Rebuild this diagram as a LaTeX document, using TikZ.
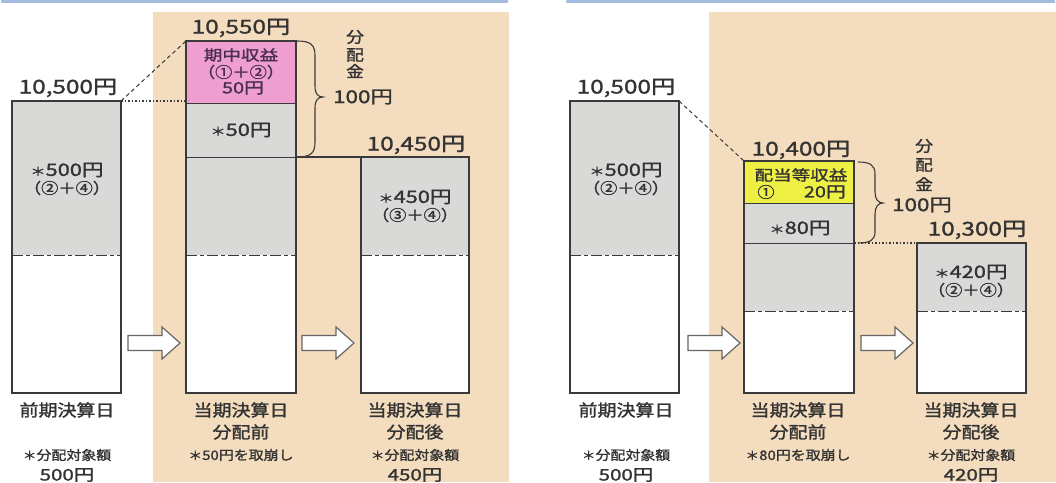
\documentclass[tikz,border=0pt]{standalone}
\usepackage{fontspec}
\setmainfont[FakeStretch=1.15,FakeBold=1.5]{Noto Sans CJK JP}
\newfontfamily\numf[FakeStretch=1.28,FakeBold=1.5]{Noto Sans CJK JP}
\usetikzlibrary{calc}
\definecolor{beige}{HTML}{F4DDBE}
\definecolor{grayf}{HTML}{D9D9D7}
\definecolor{pinkf}{HTML}{EE9FD0}
\definecolor{yellowf}{HTML}{EEF046}
\definecolor{boxc}{HTML}{3A3A3A}
\definecolor{txt}{HTML}{333333}
\definecolor{pinktxt}{HTML}{4A2F4F}
\definecolor{topblue}{HTML}{A3BBDF}
\definecolor{arrowc}{HTML}{666666}
\newcommand\fs[1]{\fontsize{#1}{#1}\selectfont}
\newcommand\astk{{\fs{12}＊}}
\begin{document}
\begin{tikzpicture}[x=1pt,y=-1pt,
  box/.style={draw=boxc, line width=1.3pt, inner sep=0pt, outer sep=0pt},
  div/.style={draw=boxc, line width=1pt},
  dd/.style={draw=boxc, line width=1pt, dash pattern=on 11pt off 3pt on 4pt off 3pt},
  lbl/.style={text=txt, inner sep=0pt, font=\numf\fs{19}},
  inbox/.style={text=txt, inner sep=0pt, font=\numf\fs{17}},
  paren/.style={text=txt, inner sep=0pt, font=\fs{15}},
  bot/.style={text=txt, inner sep=0pt, font=\fs{16.5}},
  botsm/.style={text=txt, inner sep=0pt, font=\fs{13}},
  botnum/.style={text=txt, inner sep=0pt, font=\numf\fs{16}},
  vert/.style={text=txt, inner sep=0pt, font=\fs{15.5}},
  brc/.style={draw=boxc, line width=1.1pt},
  dashconn/.style={draw=boxc, line width=1pt, dash pattern=on 4pt off 3pt},
  dotconn/.style={draw=boxc, line width=1.2pt, dash pattern=on 1.5pt off 2pt},
  solconn/.style={draw=boxc, line width=1.2pt},
  blockarr/.pic={\draw[draw=arrowc, fill=white, line width=1.2pt]
     (0,-7.5) -- (34,-7.5) -- (34,-16) -- (52,0) -- (34,16) -- (34,7.5) -- (0,7.5) -- cycle;}
]
\useasboundingbox (0,0) rectangle (1056,482);
% backgrounds
\fill[white] (0,0) rectangle (1056,482);
\fill[beige] (153,12) rectangle (509,482);
\fill[beige] (709,12) rectangle (1056,482);
\draw[topblue, line width=3pt, line cap=round] (2,1.5) -- (507,1.5);
\draw[topblue, line width=3pt, line cap=round] (567,1.5) -- (1054,1.5);

% fills
\fill[white] (12,101) rectangle (121,393);
\fill[white] (186,41) rectangle (296,393);
\fill[white] (361,157) rectangle (469,393);
\fill[white] (570,101) rectangle (679,393);
\fill[white] (744,161) rectangle (854,393);
\fill[white] (917,243) rectangle (1026,393);
\fill[grayf] (12,101) rectangle (121,255);
\fill[pinkf] (186,41) rectangle (296,103);
\fill[grayf] (186,103) rectangle (296,255);
\fill[grayf] (361,157) rectangle (469,255);
\fill[grayf] (570,101) rectangle (679,255);
\fill[yellowf] (744,161) rectangle (854,203);
\fill[grayf] (744,203) rectangle (854,311);
\fill[grayf] (917,243) rectangle (1026,311);

% internal division lines
\draw[div] (186,103) -- (296,103);
\draw[div] (186,157) -- (296,157);
\draw[div] (744,203) -- (854,203);
\draw[div] (744,243) -- (854,243);
\draw[dd] (12,255) -- (121,255);
\draw[dd] (186,255) -- (296,255);
\draw[dd] (361,255) -- (469,255);
\draw[dd] (570,255) -- (679,255);
\draw[dd] (744,311) -- (854,311);
\draw[dd] (917,311) -- (1026,311);

% boxes
\node[box, minimum width=109pt, minimum height=292pt] (b1) at (66.5,247) {};
\node[box, minimum width=110pt, minimum height=352pt] (b2) at (241,217) {};
\node[box, minimum width=108pt, minimum height=236pt] (b3) at (415,275) {};
\node[box, minimum width=109pt, minimum height=292pt] (c1) at (624.5,247) {};
\node[box, minimum width=110pt, minimum height=232pt] (c2) at (799,277) {};
\node[box, minimum width=109pt, minimum height=150pt] (c3) at (971.5,318) {};

% connectors
\draw[dotconn] (b1.north east) -- (b1.north east -| b2.west);
\draw[dashconn] (b1.north east) -- (b2.north west);
\draw[solconn] (b3.north west -| b2.east) -- (b3.north west);
\draw[dashconn] (c1.north east) -- (c2.north west);
\draw[dotconn] (c3.north west -| c2.east) -- (c3.north west);

% braces
\draw[brc] (297,41) .. controls (311,41) and (315,45) .. (315,56) -- (315,86)
  .. controls (315,94) and (318,97) .. (323,97)
  .. controls (318,97) and (315,100) .. (315,108) -- (315,142)
  .. controls (315,153) and (311,157) .. (297,157);
\draw[brc] (858,162) .. controls (870,162) and (875,165) .. (875,174) -- (875,192)
  .. controls (875,199) and (878,203) .. (883,203)
  .. controls (878,203) and (875,207) .. (875,214) -- (875,232)
  .. controls (875,240) and (870,243) .. (858,243);

% block arrows
\pic at (128,343) {blockarr};
\pic at (302,343) {blockarr};
\pic at (688,343) {blockarr};
\pic at (861,343) {blockarr};

% top labels
\node[lbl] (t1) at (68,88) {10,500円};
\node[lbl] (t2) at (241,28) {10,550円};
\node[lbl] (t3) at (416,145) {10,450円};
\node[lbl] (t4) at (626,88) {10,500円};
\node[lbl] (t5) at (801,150) {10,400円};
\node[lbl] (t6) at (977,230) {10,300円};

% 分配金
\node[vert] (v1) at (355,37) {分};
\node[vert] (v2) at (355,55) {配};
\node[vert] (v3) at (355,71) {金};
\node[lbl, font=\numf\fs{17.5}] (h1) at (363,97) {100円};
\node[vert] (w1) at (924,146) {分};
\node[vert] (w2) at (924,165) {配};
\node[vert] (w3) at (924,184) {金};
\node[lbl, font=\numf\fs{17.5}] (h2) at (922,205) {100円};

% inside texts
\node[inbox] (i1) at (67,170) {\astk{}500円};
\node[paren] (i2) at (67,188) {（②＋④）};
\node[inbox, text=pinktxt, font=\numf\fs{14.5}] (i3) at (241,55) {期中収益};
\node[paren, text=pinktxt] (i4) at (241,72) {（①＋②）};
\node[inbox, text=pinktxt, font=\numf\fs{15.5}] (i5) at (243,88) {50円};
\node[inbox] (i6) at (241,130) {\astk{}50円};
\node[inbox] (i7) at (415,197) {\astk{}450円};
\node[paren] (i8) at (415,215) {（③＋④）};
\node[inbox] (j1) at (626,170) {\astk{}500円};
\node[paren] (j2) at (626,188) {（②＋④）};
\node[inbox, font=\numf\fs{14.5}] (j3) at (801,175) {配当等収益};
\node[paren] (j4) at (766,192) {①};
\node[inbox, font=\numf\fs{15.5}, anchor=east] (j5) at (846,192) {20円};
\node[inbox] (j6) at (800,228) {\astk{}80円};
\node[inbox] (j7) at (971,272) {\astk{}420円};
\node[paren] (j8) at (971,290) {（②＋④）};

% bottom labels
\node[bot] (k1) at (67,410) {前期決算日};
\node[botsm] (k2) at (67,455) {\astk{}分配対象額};
\node[botnum] (k3) at (67,475) {500円};
\node[bot] (k4) at (241,410) {当期決算日};
\node[bot] (k5) at (241,432) {分配前};
\node[botsm] (k6) at (241,455) {\astk{}50円を取崩し};
\node[bot] (k7) at (415,410) {当期決算日};
\node[bot] (k8) at (415,432) {分配後};
\node[botsm] (k9) at (415,455) {\astk{}分配対象額};
\node[botnum] (k10) at (415,475) {450円};

\node[bot] (m1) at (626,410) {前期決算日};
\node[botsm] (m2) at (626,455) {\astk{}分配対象額};
\node[botnum] (m3) at (626,475) {500円};
\node[bot] (m4) at (798,410) {当期決算日};
\node[bot] (m5) at (798,432) {分配前};
\node[botsm] (m6) at (798,455) {\astk{}80円を取崩し};
\node[bot] (m7) at (971,410) {当期決算日};
\node[bot] (m8) at (971,432) {分配後};
\node[botsm] (m9) at (971,455) {\astk{}分配対象額};
\node[botnum] (m10) at (971,475) {420円};
\end{tikzpicture}
\end{document}
